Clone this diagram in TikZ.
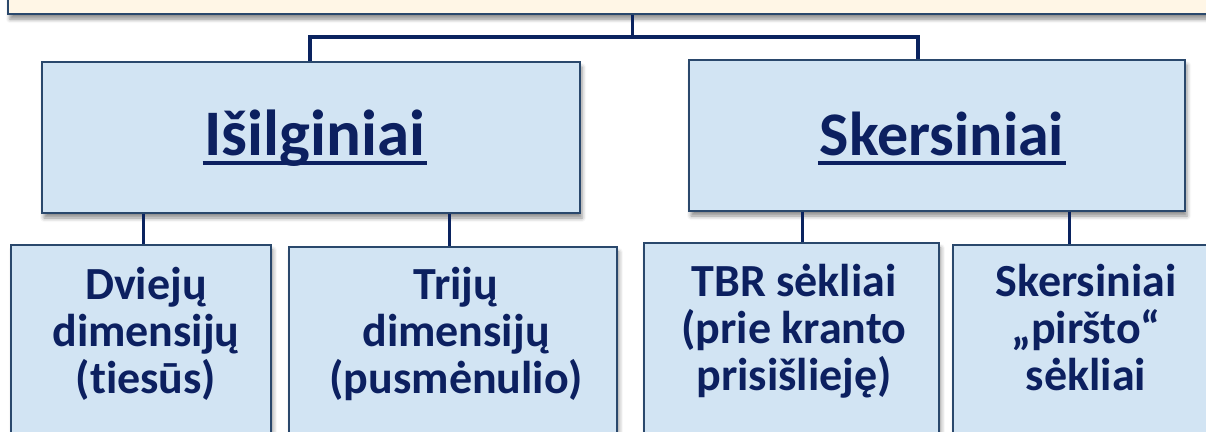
\documentclass[tikz,border=0pt]{standalone}
\usepackage{fontspec}
\setmainfont{Carlito}[Ligatures=NoCommon]
\usetikzlibrary{shadows.blur}
\definecolor{txtc}{RGB}{12,32,96}
\definecolor{boxfill}{RGB}{210,228,243}
\definecolor{boxdraw}{RGB}{42,72,108}
\definecolor{linec}{RGB}{10,35,95}
\definecolor{topfill}{RGB}{255,246,230}
\newcommand\myul[1]{\setbox0=\hbox{#1}\rlap{\kern-2pt\rule[-10pt]{\dimexpr\wd0+4pt\relax}{4pt}}\box0}
\tikzset{
  box/.style={draw=boxdraw, line width=1.8pt, fill=boxfill, inner sep=0pt,
    blur shadow={shadow xshift=2pt, shadow yshift=-5pt, shadow blur radius=4pt, shadow opacity=45}},
  topbox/.style={box, fill=topfill},
  headtxt/.style={font=\bfseries\fontsize{62}{70}\selectfont, text=txtc, inner sep=0pt},
  subtxt/.style={font=\bfseries\fontsize{46}{47}\selectfont, text=txtc, align=center, inner sep=0pt},
  conn/.style={draw=linec, line width=3pt},
  bar/.style={draw=linec, line width=4.5pt}
}
\begin{document}
\begin{tikzpicture}[x=1pt,y=-1pt]
\useasboundingbox (0,0) rectangle (1206,431);
% top box
\node[topbox, minimum width=1220pt, minimum height=40pt, anchor=south west] (top) at (7,15) {};
% level 2 boxes
\node[box, minimum width=538pt, minimum height=151pt] (isil) at (311,137.5) {};
\node[box, minimum width=496pt, minimum height=151pt] (sker) at (937,135.5) {};
% level 3 boxes
\node[box, minimum width=260pt, minimum height=210pt, anchor=north west] (dvi) at (10,244) {};
\node[box, minimum width=328pt, minimum height=210pt, anchor=north west] (tri) at (288,246) {};
\node[box, minimum width=295pt, minimum height=210pt, anchor=north west] (tbr) at (643,242) {};
\node[box, minimum width=280pt, minimum height=210pt, anchor=north west] (pir) at (952,244) {};
% connectors
\coordinate (j) at (632,37);
\draw[conn] (top.south -| j) -- (j);
\draw[bar] (isil.north -| 310,0) |- (j) -| (sker.north -| 918,0);
\draw[conn] (isil.south -| 143,0) -- (dvi.north -| 143,0);
\draw[conn] (isil.south -| 449,0) -- (tri.north -| 449,0);
\draw[conn] (sker.south -| 802,0) -- (tbr.north -| 802,0);
\draw[conn] (sker.south -| 1069,0) -- (pir.north -| 1069,0);
% texts
\node[headtxt, font=\bfseries\fontsize{65}{70}\selectfont, anchor=base] (isilT) at (315,155) {\myul{Išilginiai}};
\node[headtxt, anchor=base] (skerT) at (942,155) {\myul{Skersiniai}};
\node[subtxt, anchor=base] (dviT) at (146,393) {Dviejų\\dimensijų\\(tiesūs)};
\node[subtxt, anchor=base] (triT) at (456,393) {Trijų\\dimensijų\\(pusmėnulio)};
\node[subtxt, anchor=base] (tbrT) at (794,390) {TBR sėkliai\\(prie kranto\\prisišlieję)};
\node[subtxt, anchor=base] (pirT) at (1086,390) {Skersiniai\\„piršto“\\sėkliai};
\end{tikzpicture}
\end{document}
